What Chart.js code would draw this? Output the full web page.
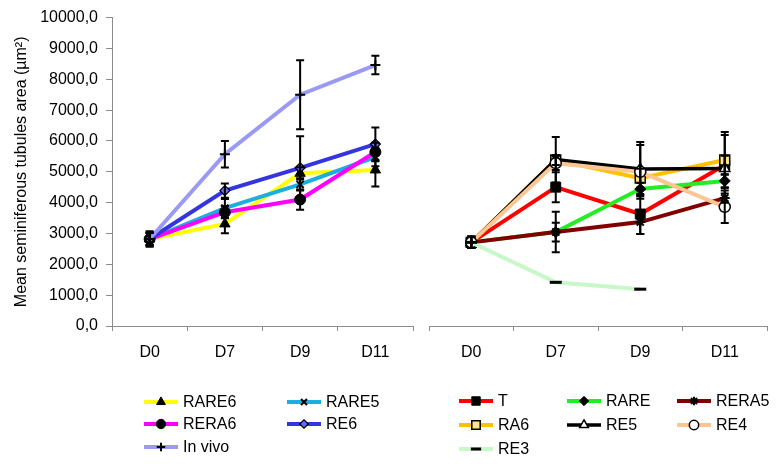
<!DOCTYPE html>
<html>
<head>
<meta charset="utf-8">
<script src="https://cdn.jsdelivr.net/npm/chart.js@4/dist/chart.umd.min.js"></script>
<style>
  html, body { margin: 0; padding: 0; background: #fff; }
  #wrap { position: relative; width: 776px; height: 464px; }
  #leftChart { position: absolute; left: 0; top: 0; }
  #rightChart { position: absolute; left: 420px; top: 0; }
</style>
</head>
<body>
<div id="wrap">
  <canvas id="leftChart" width="420" height="464"></canvas>
  <canvas id="rightChart" width="356" height="464"></canvas>
</div>
<script>
// ---- data ----
const days = ['D0', 'D7', 'D9', 'D11'];

// left panel
const rare6 = [2820, 3310, 4950, 5060];
const rare6Err = [200, 300, 200, 540];
const rare5 = [2820, 3820, 4590, 5480];
const rare5Err = [200, 300, 200, 300];
const rera6 = [2820, 3690, 4100, 5640];
const rera6Err = [200, 200, 330, 300];
const re6 = [2820, 4390, 5130, 5900];
const re6Err = [200, 230, 1020, 540];
const inVivo = [2820, 5570, 7500, 8460];
const inVivoErr = [250, 430, 1120, 300];

// right panel
const t = [2680, 4450, 3590, 5160];
const tErr = [180, 480, 640, 300];
const rare = [2680, 3010, 4390, 4650];
const rareErr = [180, 650, 200, 200];
const rera5 = [2680, 3010, 3330, 4100];
const rera5Err = [180, 300, 380, 150];
const ra6 = [2680, 5320, 4740, 5320];
const ra6Err = [180, 160, 300, 900];
const re5 = [2680, 5330, 5030, 5050];
const re5Err = [180, 730, 870, 1070];
const re4 = [2680, 5220, 4940, 3820];
const re4Err = [180, 220, 860, 520];
const re3 = [2680, 1400, 1180, null];
const re3Err = [180, 0, 0, 0];

const FONT = '"Liberation Sans", Arial, Helvetica, sans-serif';
const AXIS_GREY = '#8c8c8c';

let seriesCount = 0;
function series(label, data, errors, color, style, fill, radius, border, lineWidth) {
  seriesCount++;
  return {
    label, data, errors,
    order: -seriesCount, // later series on top, like the original
    borderColor: color, borderWidth: lineWidth || 4,
    pointStyle: style, pointRadius: radius, pointHoverRadius: radius,
    pointBackgroundColor: fill, pointBorderColor: '#000', pointBorderWidth: border,
    tension: 0, fill: false
  };
}

// error bars drawn on top of the lines
const errorBars = {
  id: 'errorBars',
  afterDatasetsDraw(chart) {
    const ctx = chart.ctx, y = chart.scales.y;
    ctx.save();
    ctx.strokeStyle = '#000';
    ctx.lineWidth = 2;
    chart.data.datasets.forEach((ds, i) => {
      const meta = chart.getDatasetMeta(i);
      ds.errors.forEach((e, j) => {
        const v = ds.data[j];
        if (v == null || !e) return;
        const x = meta.data[j].x;
        const top = y.getPixelForValue(v + e), bot = y.getPixelForValue(v - e);
        ctx.beginPath();
        ctx.moveTo(x, top); ctx.lineTo(x, bot);
        ctx.moveTo(x - 4, top); ctx.lineTo(x + 4, top);
        ctx.moveTo(x - 4, bot); ctx.lineTo(x + 4, bot);
        ctx.stroke();
      });
    });
    ctx.restore();
  }
};

// legend laid out in a grid under each panel, line + marker + label
const gridLegend = {
  id: 'gridLegend',
  afterDraw(chart, args, opts) {
    const ctx = chart.ctx;
    chart.data.datasets.forEach((ds, i) => {
      const x = opts.cols[i % opts.cols.length];
      const y = opts.rows[Math.floor(i / opts.cols.length)];
      ctx.save();
      ctx.strokeStyle = ds.borderColor;
      ctx.lineWidth = ds.borderWidth;
      ctx.beginPath(); ctx.moveTo(x, y); ctx.lineTo(x + 34, y); ctx.stroke();
      ctx.fillStyle = ds.pointBackgroundColor;
      ctx.strokeStyle = ds.pointBorderColor;
      ctx.lineWidth = ds.pointBorderWidth;
      Chart.helpers.drawPoint(ctx, {
        pointStyle: ds.pointStyle, radius: ds.pointRadius * 0.85, rotation: 0, borderWidth: ds.pointBorderWidth
      }, x + 17, y);
      ctx.fillStyle = '#000';
      ctx.font = '16px ' + FONT;
      ctx.textBaseline = 'middle';
      ctx.fillText(ds.label, x + 39, y + 1);
      ctx.restore();
    });
  }
};

function xAxis() {
  return {
    offset: true,
    grid: { offset: true, drawOnChartArea: false, drawTicks: true, tickLength: 5, color: AXIS_GREY },
    border: { color: AXIS_GREY },
    ticks: { color: '#000', font: { family: FONT, size: 16 }, padding: 12 },
    afterFit: s => { s.height = 40; }
  };
}

function baseOptions(padding, yAxis, legendPos) {
  return {
    responsive: false,
    animation: false,
    layout: { padding },
    plugins: { legend: { display: false }, tooltip: { enabled: false }, gridLegend: legendPos },
    scales: { x: xAxis(), y: yAxis }
  };
}

new Chart(document.getElementById('leftChart'), {
  type: 'line',
  data: {
    labels: days,
    datasets: [
      series('RARE6', rare6, rare6Err, '#ffff00', 'triangle', '#000', 6, 1),
      series('RARE5', rare5, rare5Err, '#1aafe0', 'crossRot', '#000', 5, 2),
      series('RERA6', rera6, rera6Err, '#ff00ff', 'circle', '#000', 5.5, 1),
      series('RE6', re6, re6Err, '#3535e0', 'rectRot', '#6a6aff', 5, 1.2),
      series('In vivo', inVivo, inVivoErr, '#9a9af5', 'cross', '#000', 5, 2)
    ]
  },
  options: baseOptions({ left: 0, right: 4, top: 14, bottom: 98 }, {
    min: 0, max: 10000,
    grid: { drawOnChartArea: false, drawTicks: true, tickLength: 6, color: AXIS_GREY },
    border: { color: AXIS_GREY },
    ticks: {
      stepSize: 1000, color: '#000', font: { family: FONT, size: 16 }, padding: 8,
      callback: v => v.toFixed(1).replace('.', ',')
    },
    title: {
      display: true, text: 'Mean seminiferous tubules area (µm²)',
      color: '#000', font: { family: FONT, size: 16 }, padding: { top: 12, bottom: 0 }
    },
    afterFit: s => { s.width = 112; }
  }, { cols: [144, 287], rows: [402, 424, 447] }),
  plugins: [errorBars, gridLegend]
});

new Chart(document.getElementById('rightChart'), {
  type: 'line',
  data: {
    labels: days,
    datasets: [
      series('T', t, tErr, '#ff0000', 'rect', '#000', 7, 1),
      series('RARE', rare, rareErr, '#22ee22', 'rectRot', '#000', 5.5, 1),
      series('RERA5', rera5, rera5Err, '#800000', 'star', '#000', 5, 2),
      series('RA6', ra6, ra6Err, '#ffc000', 'rect', '#ffe48a', 7, 1.5),
      series('RE5', re5, re5Err, '#000000', 'triangle', '#fff', 6, 1.5, 3.5),
      series('RE4', re4, re4Err, '#fbc594', 'circle', '#fff', 5.5, 1.5),
      series('RE3', re3, re3Err, '#c8f7c8', 'line', '#000', 6, 3)
    ]
  },
  options: baseOptions({ left: 8, right: 9, top: 14, bottom: 98 }, {
    display: false, min: 0, max: 10000
  }, { cols: [39, 147, 257], rows: [401, 425, 449] }),
  plugins: [errorBars, gridLegend]
});
</script>
</body>
</html>
